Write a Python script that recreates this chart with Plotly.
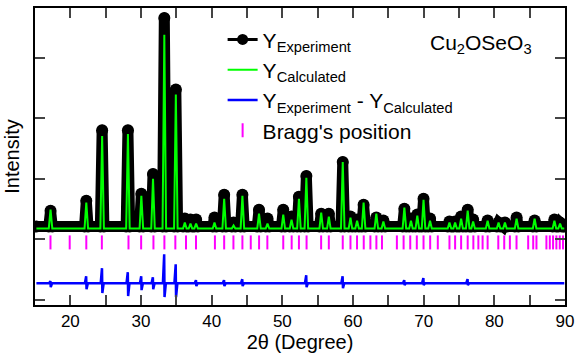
import plotly.graph_objects as go

# ---- data (arbitrary intensity units) ----
peak_pos = [17.2, 22.26, 24.5, 28.15, 30.05, 31.7, 33.3, 34.93, 36.2, 37.0, 37.8,
            40.4, 41.77, 43.1, 44.35, 46.7, 47.9, 50.13, 51.3, 52.35, 53.4,
            55.5, 56.58, 58.55, 59.64, 60.58, 61.5, 63.3, 64.3, 67.27, 68.2,
            69.1, 69.98, 70.9, 73.65, 74.45, 75.3, 76.23, 77.0, 79.05, 80.6,
            81.5, 83.15, 85.7, 88.5, 89.3]
exp_peak = [1475, 1639, 2803, 2803, 1754, 2082, 4656, 3475, 1344, 1328, 1328,
            1361, 1738, 1279, 1738, 1492, 1344, 1492, 1377, 1705, 2049,
            1426, 1426, 2279, 1377, 1328, 1574, 1361, 1311, 1508, 1344,
            1410, 1672, 1344, 1295, 1295, 1377, 1492, 1328, 1311, 1279,
            1279, 1361, 1311, 1328, 1279]
calc_peak = [1492, 1607, 2705, 2738, 1721, 2000, 4377, 3393, 1279, 1262, 1262,
             1279, 1672, 1230, 1721, 1426, 1262, 1410, 1328, 1672, 2016,
             1443, 1377, 2279, 1361, 1311, 1607, 1426, 1295, 1525, 1311,
             1393, 1656, 1311, 1279, 1279, 1344, 1475, 1295, 1311, 1279,
             1279, 1344, 1344, 1311, 1262]
exp_bg = 1213
calc_bg = 1180
x_start, x_end = 15.2, 89.9

diff_pos = [17.2, 22.26, 24.5, 28.15, 30.05, 31.7, 33.3, 34.93, 37.8, 41.77,
            44.35, 53.4, 58.55, 67.27, 69.98, 76.23]
diff_up = [311, 393, 525, 459, 393, 377, 754, 590, 328, 328,
           344, 410, 393, 328, 361, 344]
diff_down = [213, 180, 115, 66, 164, 180, 49, 49, 230, 230,
             230, 213, 197, 246, 246, 246]
diff_bg = 279

bragg_pos = [17.19, 19.91, 22.26, 24.46, 28.23, 30.02, 31.76, 33.31, 34.86, 36.37,
             37.78, 40.46, 41.77, 43.08, 44.35, 45.53, 46.71, 47.88, 50.13, 51.32,
             52.35, 53.43, 55.49, 56.58, 58.55, 59.64, 60.57, 61.52, 62.46, 63.31,
             64.1, 66.21, 67.16, 68.1, 69.03, 69.98, 70.92, 72.0, 73.65, 74.45,
             75.3, 76.23, 77.03, 77.74, 78.34, 79.05, 80.56, 81.4, 82.2, 83.14,
             84.79, 85.5, 85.96, 87.37, 87.85, 88.31, 88.78, 89.26, 89.72]
bragg_level = 951

x_ticks = [20, 30, 40, 50, 60, 70, 80, 90]


def profile(heights, bg, hw=0.25):
    xs, ys = [x_start], [bg]
    for p, h in zip(peak_pos, heights):
        xs += [p - hw, p, p + hw]
        ys += [bg, h, bg]
    xs.append(x_end)
    ys.append(bg)
    return xs, ys


ex, ey = profile(exp_peak, exp_bg)
cx, cy = profile(calc_peak, calc_bg)

dx, dy = [x_start], [diff_bg]
for p, u, d in zip(diff_pos, diff_up, diff_down):
    dx += [p - 0.2, p - 0.02, p + 0.03, p + 0.22]
    dy += [diff_bg, u, d, diff_bg]
dx.append(x_end)
dy.append(diff_bg)

font = "Arial, Liberation Sans, sans-serif"

fig = go.Figure()
# thick band made by the dense experimental markers
fig.add_trace(go.Scatter(x=ex, y=ey, mode="lines+markers",
                         line=dict(color="black", width=11),
                         marker=dict(color="black", size=12),
                         showlegend=False, hoverinfo="skip"))
fig.add_trace(go.Scatter(x=ex, y=ey, mode="lines+markers",
                         name="Y<sub>Experiment</sub>",
                         line=dict(color="black", width=3),
                         marker=dict(color="black", size=11)))
fig.add_trace(go.Scatter(x=cx, y=cy, mode="lines",
                         name="Y<sub>Calculated</sub>",
                         line=dict(color="#00FF00", width=2)))
fig.add_trace(go.Scatter(x=dx, y=dy, mode="lines",
                         name="Y<sub>Experiment</sub> - Y<sub>Calculated</sub>",
                         line=dict(color="#0000FF", width=2.5)))
fig.add_trace(go.Scatter(x=bragg_pos, y=[bragg_level] * len(bragg_pos), mode="markers",
                         name="Bragg's position",
                         marker=dict(symbol="line-ns", size=10,
                                     line=dict(color="#FF00FF", width=2))))

fig.update_layout(
    width=580, height=358,
    margin=dict(l=35, r=13, t=6, b=53),
    paper_bgcolor="white", plot_bgcolor="white",
    font=dict(family=font, color="black"),
    legend=dict(x=0.354, y=0.962, xanchor="left", yanchor="top",
                font=dict(size=21, family=font), bgcolor="rgba(0,0,0,0)",
                tracegroupgap=0),
    annotations=[dict(text="Cu<sub>2</sub>OSeO<sub>3</sub>", xref="paper", yref="paper",
                      x=0.841, y=0.88, xanchor="center", yanchor="middle",
                      showarrow=False, font=dict(size=21, family=font))],
)
fig.update_xaxes(range=[15, 90], tickvals=x_ticks, ticks="inside", ticklen=4, tickwidth=1.5,
                 minor=dict(dtick=5, tick0=0, ticklen=10, tickwidth=1.5, ticks="inside",
                            showgrid=False),
                 showline=True, linewidth=2, linecolor="black", mirror="allticks",
                 showgrid=False, zeroline=False, tickfont=dict(size=17),
                 title=dict(text="2θ (Degree)", font=dict(size=20), standoff=4))
fig.update_yaxes(range=[-82, 4820], dtick=1000, tick0=0, ticks="inside", ticklen=10,
                 tickwidth=1.5, showticklabels=False,
                 showline=True, linewidth=2, linecolor="black", mirror="allticks",
                 showgrid=False, zeroline=False,
                 title=dict(text="Intensity", font=dict(size=20), standoff=8))

fig.write_html("out.html")
